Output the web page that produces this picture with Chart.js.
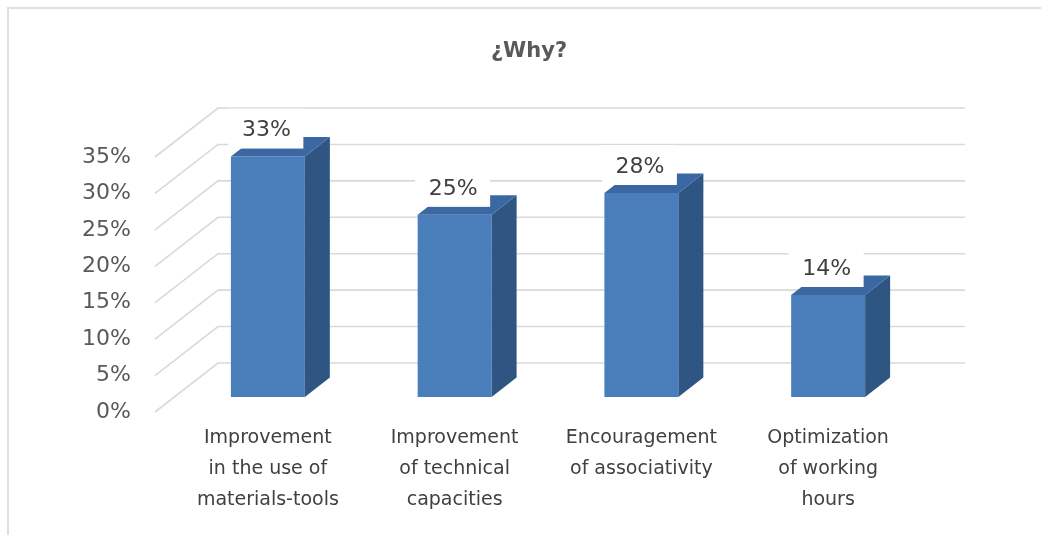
<!DOCTYPE html>
<html>
<head>
<meta charset="utf-8">
<title>Why</title>
<script src="https://cdn.jsdelivr.net/npm/chart.js@4.4.0/dist/chart.umd.min.js"></script>
<style>
  html, body { margin: 0; padding: 0; background: #fff; }
  .frame { position: relative; width: 1041px; height: 535px; overflow: hidden; }
  .frame::before {
    content: ''; position: absolute; left: 7px; top: 7px; right: -4px; bottom: -4px;
    border-top: 2px solid #e0e0e0; border-left: 2px solid #e0e0e0;
  }
  canvas { position: absolute; left: 0; top: 0; }
</style>
</head>
<body>
<div class="frame"><canvas id="whyChart" width="1041" height="535"></canvas></div>
<script>
// chart data
const chartTitle = '¿Why?';
const categories = [
  ['Improvement', 'in the use of', 'materials-tools'],
  ['Improvement', 'of technical', 'capacities'],
  ['Encouragement', 'of associativity'],
  ['Optimization', 'of working', 'hours']
];
const shares = [33, 25, 28, 14];
const yTicks = [0, 5, 10, 15, 20, 25, 30, 35];

// fake 3D look
const FRONT = '#4a7ebb';
const SIDE = '#2f5583';
const TOP = '#3b68a2';
const GRID = '#d9d9d9';
const FONT = "'DejaVu Sans', sans-serif";
const depth = {
    bar: [25, 19.6],     // bar front -> bar back
    back: [43.5, 34],    // bar front plane -> back wall
    front: [19.5, 15]    // bar front plane -> front edge of side wall
};

// side wall diagonals + back wall gridlines
const wallsPlugin = {
    id: 'walls',
    beforeDatasetsDraw(chart) {
        const { ctx, chartArea: a, scales: { y } } = chart;
        ctx.save();
        ctx.strokeStyle = GRID;
        ctx.lineWidth = 1.6;
        y.ticks.forEach(t => {
            const py = y.getPixelForValue(t.value);
            ctx.beginPath();
            ctx.moveTo(a.left - depth.front[0], py + depth.front[1]);
            ctx.lineTo(a.left + depth.back[0], py - depth.back[1]);
            ctx.lineTo(a.right + depth.back[0], py - depth.back[1]);
            ctx.stroke();
        });
        ctx.restore();
    }
};

// side / top faces of each column and the value labels
const columnsPlugin = {
    id: 'columns3d',
    afterDatasetsDraw(chart) {
        const ctx = chart.ctx;
        const [dx, dy] = depth.bar;
        const values = chart.data.datasets[0].data;
        ctx.save();
        chart.getDatasetMeta(0).data.forEach((bar, i) => {
            const { x, y, base, width } = bar.getProps(['x', 'y', 'base', 'width'], true);
            const l = x - width / 2;
            const r = x + width / 2;

            ctx.fillStyle = SIDE;
            ctx.beginPath();
            ctx.moveTo(r, y);
            ctx.lineTo(r + dx, y - dy);
            ctx.lineTo(r + dx, base - dy);
            ctx.lineTo(r, base);
            ctx.closePath();
            ctx.fill();

            ctx.fillStyle = TOP;
            ctx.beginPath();
            ctx.moveTo(l, y);
            ctx.lineTo(l + dx, y - dy);
            ctx.lineTo(r + dx, y - dy);
            ctx.lineTo(r, y);
            ctx.closePath();
            ctx.fill();

            const cx = x - 1.5;
            const cy = y - 26;
            ctx.fillStyle = '#ffffff';
            ctx.fillRect(cx - 38, cy - 22, 75, 40);
            ctx.fillStyle = '#404040';
            ctx.font = '22px ' + FONT;
            ctx.textAlign = 'center';
            ctx.textBaseline = 'middle';
            ctx.fillText(values[i] + '%', cx, cy);
        });
        ctx.restore();
    }
};

new Chart(document.getElementById('whyChart'), {
    type: 'bar',
    data: {
        labels: categories,
        datasets: [{
            data: shares,
            backgroundColor: FRONT,
            borderWidth: 0,
            barPercentage: 0.396,
            categoryPercentage: 1
        }]
    },
    options: {
        responsive: false,
        devicePixelRatio: 1,
        animation: false,
        layout: { padding: { left: 17, right: 0, top: 0, bottom: 0 } },
        plugins: {
            legend: { display: false },
            tooltip: { enabled: false },
            title: {
                display: true,
                text: chartTitle,
                color: '#595959',
                font: { family: FONT, size: 21, weight: 'bold', lineHeight: 1.2 },
                padding: { top: 39, bottom: 77.8 }
            }
        },
        scales: {
            x: {
                grid: { display: false, drawTicks: false },
                border: { display: false },
                ticks: {
                    color: '#404040',
                    font: { family: FONT, size: 19, lineHeight: 1.62 },
                    padding: 26,
                    maxRotation: 0,
                    autoSkip: false
                },
                afterFit(scale) { scale.height = 138; }
            },
            y: {
                min: 0,
                max: 35,
                afterBuildTicks(scale) { scale.ticks = yTicks.map(v => ({ value: v })); },
                grid: { display: false, drawTicks: false },
                border: { display: false },
                ticks: {
                    color: '#595959',
                    font: { family: FONT, size: 22 },
                    padding: 43.5,
                    labelOffset: 15,
                    callback: v => v + '%'
                },
                afterFit(scale) { scale.width = 157.5; }
            },
            // empty axis that keeps room on the right for the back wall
            yRight: {
                position: 'right',
                min: 0,
                max: 35,
                grid: { display: false, drawTicks: false },
                border: { display: false },
                ticks: { display: false },
                afterFit(scale) { scale.width = 119.5; }
            }
        }
    },
    plugins: [wallsPlugin, columnsPlugin]
});
</script>
</body>
</html>
